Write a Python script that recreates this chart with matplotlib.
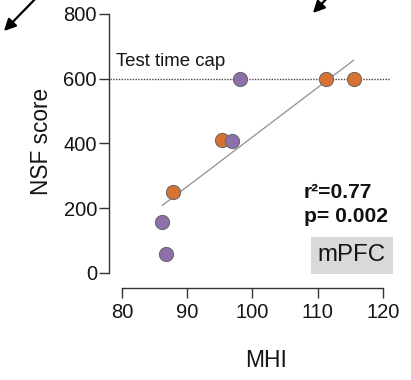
import numpy as np
import matplotlib
matplotlib.use('Agg')
import matplotlib.pyplot as plt
from matplotlib.patches import Rectangle

plt.rcParams['font.family'] = ['Liberation Sans', 'DejaVu Sans']

# Data
mhi_orange = [111.3, 115.5, 95.4, 87.8]
nsf_orange = [600, 600, 411, 249]
mhi_purple = [98.1, 96.9, 86.2, 86.7]
nsf_purple = [600, 407, 157, 58]

# regression line (end points as drawn)
fit_x = [86.2, 115.5]
fit_y = [209, 657]

cap_value = 600
x_ticks = [80, 90, 100, 110, 120]
y_ticks = [0, 200, 400, 600, 800]
r2_text = 'r\u00b2=0.77'
p_text = 'p= 0.002'
region = 'mPFC'

orange = '#d77233'
purple = '#8d6fa9'
txt = '#151515'

fig = plt.figure(figsize=(4.11, 3.80), dpi=100)
ax = fig.add_axes([0.2968, 0.2816, 0.6350, 0.6816])

ax.set_xlim(80, 120)
ax.set_ylim(0, 800)

# test time cap
ax.axhline(cap_value, xmin=-0.046, xmax=1.027, color='#444444', lw=1.0,
           linestyle=(0, (1, 1)), clip_on=False, zorder=1)
ax.text(-0.023, 639, 'Test time cap', transform=ax.get_yaxis_transform(),
        fontsize=13.4, va='baseline', ha='left', color=txt)

# regression line
ax.plot(fit_x, fit_y, color='#999999', lw=1.0, zorder=2)

ax.scatter(mhi_orange, nsf_orange, s=105, color=orange, edgecolor='#666666',
           linewidth=0.7, zorder=3, clip_on=False)
ax.scatter(mhi_purple, nsf_purple, s=105, color=purple, edgecolor='#666666',
           linewidth=0.7, zorder=3, clip_on=False)

# stats
ax.text(0.697, 0.29, r2_text, transform=ax.transAxes, fontsize=15.2,
        fontweight='bold', va='baseline', ha='left', color='#111111')
ax.text(0.697, 0.197, p_text, transform=ax.transAxes, fontsize=15.2,
        fontweight='bold', va='baseline', ha='left', color='#111111')

ax.add_patch(Rectangle((0.724, -0.004), 0.314, 0.143, transform=ax.transAxes,
                       facecolor='#d9d9d9', edgecolor='none', clip_on=False,
                       zorder=0))
ax.text(0.881, 0.068, region, transform=ax.transAxes, fontsize=17.3,
        va='center', ha='center', color=txt)

# axes styling (prism-like offset spines)
for s in ['top', 'right']:
    ax.spines[s].set_visible(False)
ax.spines['left'].set_position(('outward', 9.5))
ax.spines['bottom'].set_position(('outward', 11))
ax.spines['left'].set_bounds(0, 800)
ax.spines['bottom'].set_bounds(80, 120)
for s in ['left', 'bottom']:
    ax.spines[s].set_linewidth(1.0)
    ax.spines[s].set_color('#333333')

ax.set_xticks(x_ticks)
ax.set_yticks(y_ticks)
ax.tick_params(axis='both', length=7, width=1.0, color='#333333',
               labelsize=14.5, labelcolor=txt)
ax.tick_params(axis='y', pad=1.5)
ax.tick_params(axis='x', pad=3.5)

ax.set_xlabel('MHI', fontsize=16.5, color=txt)
ax.set_ylabel('NSF score', fontsize=16.3, color=txt)
ax.xaxis.set_label_coords(0.552, -0.293)
ax.yaxis.set_label_coords(-0.266, 0.506)

# cropped arrows at the top
ax.annotate('', xy=(2 / 411, 1 - 33 / 380), xytext=(40 / 411, 1 + 6 / 380),
            xycoords='figure fraction', textcoords='figure fraction',
            arrowprops=dict(arrowstyle='-|>,head_length=0.7,head_width=0.35',
                            color='black', lw=1.6), annotation_clip=False)
ax.annotate('', xy=(311 / 411, 1 - 15 / 380), xytext=(333 / 411, 1 + 8 / 380),
            xycoords='figure fraction', textcoords='figure fraction',
            arrowprops=dict(arrowstyle='-|>,head_length=0.7,head_width=0.35',
                            color='black', lw=1.6), annotation_clip=False)

fig.savefig('out.png', dpi=100)
